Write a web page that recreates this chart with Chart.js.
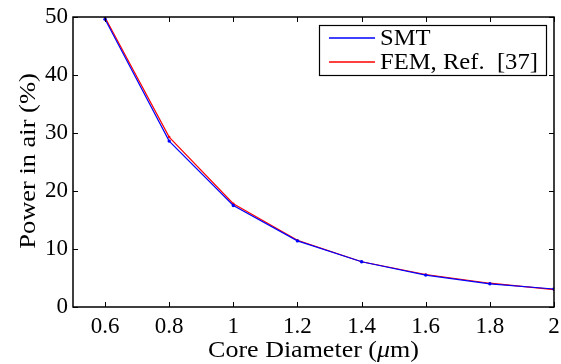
<!DOCTYPE html>
<html>
<head>
<meta charset="utf-8">
<script src="https://cdn.jsdelivr.net/npm/chart.js@4/dist/chart.umd.min.js"></script>
<style>
  html, body { margin: 0; padding: 0; background: #fff; }
  #wrap { width: 561px; height: 364px; }
</style>
</head>
<body>
<div id="wrap"><canvas id="powerChart" width="561" height="364"></canvas></div>
<script>
const diameters = [0.6, 0.8, 1.0, 1.2, 1.4, 1.6, 1.8, 2.0];
const smtPower = [49.6, 28.6, 17.5, 11.4, 7.8, 5.5, 4.0, 3.1];
const femPower = [49.9, 29.3, 17.8, 11.5, 7.8, 5.6, 4.1, 3.0];
const xTicks = [0.6, 0.8, 1.0, 1.2, 1.4, 1.6, 1.8, 2.0];
const yTicks = [0, 10, 20, 30, 40, 50];
const seriesNames = ['SMT', 'FEM, Ref.  [37]'];
const seriesColors = ['#0000ff', '#ff0000'];

const serif = '"Liberation Serif", "DejaVu Serif", serif';

function pts(xs, ys) { return xs.map((x, i) => ({ x: x, y: ys[i] })); }

// write a run of [text, fontStyle] pieces, stretched a little sideways
function drawRuns(ctx, runs, x, y, size, stretch, align) {
  let total = 0;
  runs.forEach(r => { ctx.font = r[1] + size + 'px ' + serif; total += ctx.measureText(r[0]).width; });
  ctx.save();
  ctx.translate(x, y);
  ctx.scale(stretch, 1);
  let cx = align === 'center' ? -total / 2 : 0;
  ctx.textAlign = 'left';
  runs.forEach(r => {
    ctx.font = r[1] + size + 'px ' + serif;
    ctx.fillText(r[0], cx, 0);
    cx += ctx.measureText(r[0]).width;
  });
  ctx.restore();
}

// inward ticks on all four sides, box, legend and axis titles
const framePlugin = {
  id: 'frame',
  afterDraw(chart) {
    const ctx = chart.ctx;
    const a = chart.chartArea;
    const xs = chart.scales.x, ys = chart.scales.y;
    ctx.save();
    ctx.strokeStyle = '#000';
    ctx.lineWidth = 1;
    ctx.beginPath();
    xTicks.forEach(v => {
      const px = Math.round(xs.getPixelForValue(v)) + 0.5;
      ctx.moveTo(px, a.bottom); ctx.lineTo(px, a.bottom - 5);
      ctx.moveTo(px, a.top); ctx.lineTo(px, a.top + 5);
    });
    yTicks.forEach(v => {
      const py = Math.round(ys.getPixelForValue(v)) + 0.5;
      ctx.moveTo(a.left, py); ctx.lineTo(a.left + 5, py);
      ctx.moveTo(a.right, py); ctx.lineTo(a.right - 5, py);
    });
    ctx.stroke();
    ctx.lineWidth = 1.5;
    ctx.strokeRect(a.left, a.top, a.right - a.left, a.bottom - a.top);

    // legend
    const lx = 319, ly = 25, lw = 227, lh = 50;
    ctx.fillStyle = '#fff';
    ctx.fillRect(lx, ly, lw, lh);
    ctx.lineWidth = 1.2;
    ctx.strokeRect(lx + 0.5, ly + 0.5, lw, lh);
    ctx.textBaseline = 'middle';
    seriesNames.forEach((name, i) => {
      const ry = 38 + i * 24;
      ctx.beginPath();
      ctx.strokeStyle = seriesColors[i];
      ctx.lineWidth = 1.4;
      ctx.moveTo(329, ry);
      ctx.lineTo(375, ry);
      ctx.stroke();
      ctx.fillStyle = '#000';
      drawRuns(ctx, [[name, '']], 380, ry + 1, 23, 1.07, 'left');
    });

    // axis titles
    ctx.textBaseline = 'alphabetic';
    ctx.save();
    ctx.translate(35, (a.top + a.bottom) / 2 - 1);
    ctx.rotate(-Math.PI / 2);
    drawRuns(ctx, [['Power in air (%)', '']], 0, 0, 23, 1.15, 'center');
    ctx.restore();

    drawRuns(ctx, [['Core Diameter (', ''], ['\u03bc', 'italic '], ['m)', '']],
      (a.left + a.right) / 2, 357, 23, 1.13, 'center');
    ctx.restore();
  }
};

new Chart(document.getElementById('powerChart'), {
  type: 'line',
  data: {
    datasets: [
      {
        label: seriesNames[0],
        data: pts(diameters, smtPower),
        borderColor: seriesColors[0],
        backgroundColor: seriesColors[0],
        borderWidth: 1.2,
        pointRadius: 1.7,
        pointBorderWidth: 0,
        tension: 0
      },
      {
        label: seriesNames[1],
        data: pts(diameters, femPower),
        borderColor: seriesColors[1],
        backgroundColor: seriesColors[1],
        borderWidth: 1.2,
        pointRadius: 1.2,
        pointBorderWidth: 0,
        tension: 0
      }
    ]
  },
  options: {
    animation: false,
    responsive: false,
    layout: { padding: { left: 0, right: 7, top: 17, bottom: 0 } },
    plugins: {
      legend: { display: false },
      tooltip: { enabled: false }
    },
    scales: {
      x: {
        type: 'linear',
        min: 0.5,
        max: 2,
        afterBuildTicks: s => { s.ticks = xTicks.map(v => ({ value: v })); },
        afterFit: s => { s.height = 57; s.paddingLeft = 0; s.paddingRight = 0; },
        grid: { display: false, drawTicks: false },
        border: { display: false },
        ticks: {
          color: '#000',
          padding: 6,
          maxRotation: 0,
          font: { family: serif, size: 23 },
          callback: v => String(Math.round(v * 10) / 10)
        }
      },
      y: {
        min: 0,
        max: 50,
        afterBuildTicks: s => { s.ticks = yTicks.map(v => ({ value: v })); },
        afterFit: s => { s.width = 73; s.paddingTop = 0; s.paddingBottom = 0; },
        grid: { display: false, drawTicks: false },
        border: { display: false },
        ticks: {
          color: '#000',
          padding: 5,
          font: { family: serif, size: 23 }
        }
      }
    }
  },
  plugins: [framePlugin]
});
</script>
</body>
</html>
